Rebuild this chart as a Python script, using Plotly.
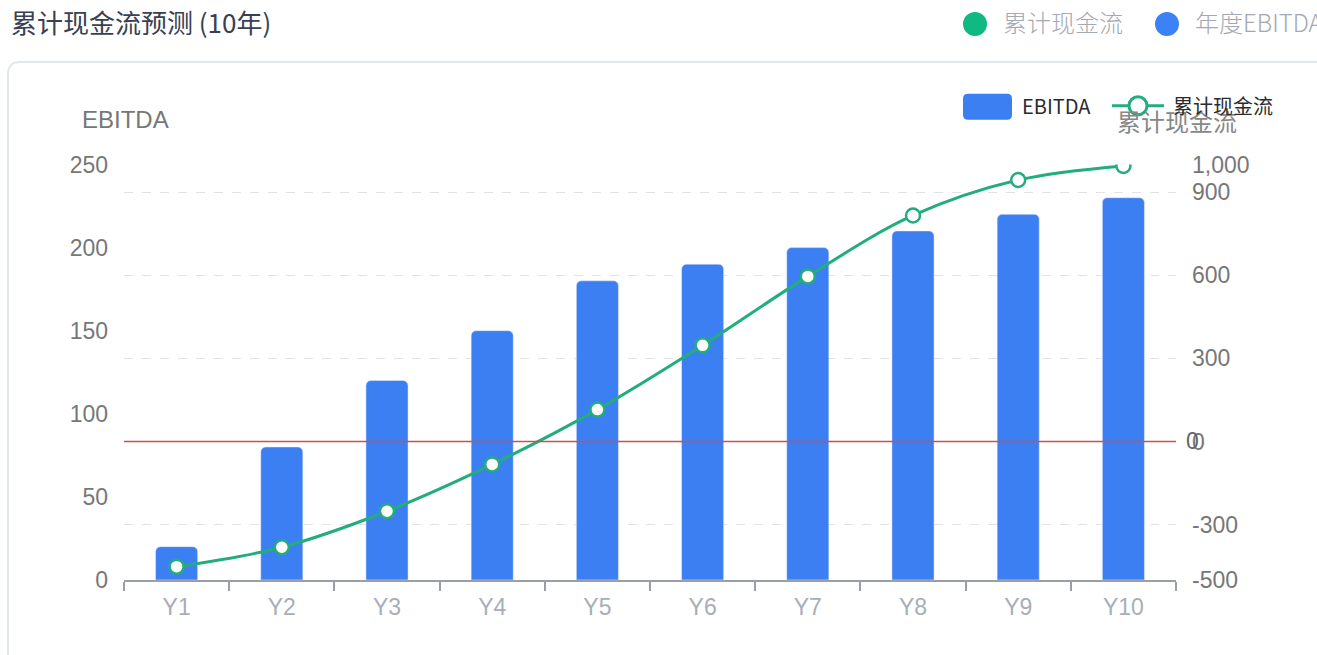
import plotly.graph_objects as go

W, H = 1317, 655

years = ["Y1", "Y2", "Y3", "Y4", "Y5", "Y6", "Y7", "Y8", "Y9", "Y10"]
ebitda = [20, 80, 120, 150, 180, 190, 200, 210, 220, 230]
cum_cash = [-452, -382, -252, -83, 115, 347, 596, 816, 944, 995]
left_ticks = [0, 50, 100, 150, 200, 250]
right_ticks = [-500, -300, 0, 300, 600, 900, 1000]
right_tick_text = [f"{v:,}" for v in right_ticks]

title_text = "累计现金流预测 (10年)"
legend_cum = "累计现金流"
legend_ebitda_top = "年度EBITDA"
legend_ebitda = "EBITDA"
left_axis_name = "EBITDA"
right_axis_name = "累计现金流"

BLUE = "#3b7ff2"
GREEN = "#24ad7c"

# the photographed picture maps page rows as y_img = 10.9 + 0.964 * y_page
Y_OFF, Y_SCALE = 10.9, 0.964


def px(x):
    return x / W


def py(y):
    return 1 - ((y - Y_OFF) / Y_SCALE) / H


fig = go.Figure()
fig.add_trace(go.Bar(
    x=years, y=ebitda, name=legend_ebitda, marker=dict(color=BLUE, cornerradius=5),
    yaxis="y", showlegend=False,
))
fig.add_trace(go.Scatter(
    x=years, y=cum_cash, name=legend_cum, yaxis="y2", mode="lines+markers",
    line=dict(color=GREEN, width=3, shape="spline", smoothing=1.0),
    marker=dict(size=14, color="white", line=dict(color=GREEN, width=2.5)),
    showlegend=False,
))

xd = [px(124), px(1176)]
yd = [py(580), py(163)]

shapes = []
# card border
card_path = "M {a},{b} L {a},{c} Q {a},{d} {e},{d} L {f},{d}".format(
    a=px(8), b=py(700), c=py(72), d=py(60), e=px(20), f=px(1330))
shapes.append(dict(type="path", xref="paper", yref="paper", path=card_path,
                   line=dict(color="#e3e8ee", width=2), layer="below"))
# zero line on right axis
shapes.append(dict(type="line", xref="paper", yref="y2", x0=xd[0], x1=xd[1], y0=0, y1=0,
                   line=dict(color="#c8524f", width=1.5)))
# top legend circles
shapes.append(dict(type="circle", xref="paper", yref="paper",
                   x0=px(963), x1=px(987), y0=py(34), y1=py(10),
                   fillcolor="#10b981", line=dict(width=0)))
shapes.append(dict(type="circle", xref="paper", yref="paper",
                   x0=px(1155), x1=px(1179), y0=py(34), y1=py(10),
                   fillcolor="#3b82f6", line=dict(width=0)))
# inner legend: blue rounded rect
x0, x1, y0, y1, r = 963, 1012, 92, 118, 5
rect_path = ("M {} {} L {} {} Q {} {} {} {} L {} {} Q {} {} {} {} L {} {} Q {} {} {} {} "
             "L {} {} Q {} {} {} {} Z").format(
    px(x0 + r), py(y0), px(x1 - r), py(y0), px(x1), py(y0), px(x1), py(y0 + r),
    px(x1), py(y1 - r), px(x1), py(y1), px(x1 - r), py(y1),
    px(x0 + r), py(y1), px(x0), py(y1), px(x0), py(y1 - r),
    px(x0), py(y0 + r), px(x0), py(y0), px(x0 + r), py(y0))
shapes.append(dict(type="path", xref="paper", yref="paper", path=rect_path,
                   fillcolor=BLUE, line=dict(width=0)))
# inner legend: line icon
shapes.append(dict(type="line", xref="paper", yref="paper", x0=px(1112), x1=px(1164),
                   y0=py(104), y1=py(104), line=dict(color=GREEN, width=3)))
shapes.append(dict(type="circle", xref="paper", yref="paper",
                   x0=px(1129), x1=px(1147), y0=py(113), y1=py(95),
                   fillcolor="white", line=dict(color=GREEN, width=3)))

CJK = "Noto Sans CJK SC"
annotations = [
    dict(text=title_text, x=px(10), y=py(19), xanchor="left", yanchor="middle",
         font=dict(family=CJK, size=26, color="#374151")),
    dict(text=legend_cum, x=px(1002), y=py(19), xanchor="left", yanchor="middle",
         font=dict(family=CJK, size=24, color="#a3a8b2", weight=300)),
    dict(text=legend_ebitda_top, x=px(1194), y=py(19), xanchor="left", yanchor="middle",
         font=dict(family=CJK, size=24, color="#a3a8b2", weight=300)),
    dict(text=left_axis_name, x=px(81), y=py(118), xanchor="left", yanchor="middle",
         font=dict(family="Liberation Sans", size=24, color="#777777")),
    dict(text=right_axis_name, x=px(1116), y=py(119), xanchor="left", yanchor="middle",
         font=dict(family=CJK, size=24, color="#888888")),
    dict(text=legend_ebitda, x=px(1021), y=py(104), xanchor="left", yanchor="middle",
         font=dict(family=CJK, size=20, color="#2b2b2b")),
    dict(text=legend_cum, x=px(1172), y=py(104), xanchor="left", yanchor="middle",
         font=dict(family=CJK, size=20, color="#2b2b2b")),
    dict(text="0", x=px(1185), y=0, xref="paper", yref="y2", xanchor="left", yanchor="middle",
         font=dict(family="Liberation Sans", size=23, color="#666666")),
]
for a in annotations:
    a.setdefault("xref", "paper")
    a.setdefault("yref", "paper")
    a["showarrow"] = False
    a["borderpad"] = 0

fig.update_layout(
    width=W, height=H, autosize=False,
    margin=dict(l=0, r=0, t=0, b=0, pad=0),
    paper_bgcolor="white", plot_bgcolor="white",
    bargap=0.6,
    shapes=shapes, annotations=annotations,
    showlegend=False,
    xaxis=dict(domain=xd, type="category", range=[-0.5, 9.5],
               showline=True, linecolor="#9a9ea8", linewidth=1.5,
               ticks="outside", tickson="boundaries", ticklen=9, tickcolor="#9a9ea8",
               tickwidth=1.5, showgrid=False, zeroline=False, ticklabelstandoff=6,
               tickfont=dict(family="Liberation Sans", size=23, color="#a8adb8")),
    yaxis=dict(domain=yd, range=[0, 250], tickvals=left_ticks, showgrid=False,
               zeroline=False, showline=False, ticks="", ticklabelstandoff=15,
               tickfont=dict(family="Liberation Sans", size=23, color="#777777")),
    yaxis2=dict(overlaying="y", side="right", range=[-500, 1000], tickvals=right_ticks,
                ticktext=right_tick_text, showgrid=True, gridcolor="#e2e2e2", griddash="dash",
                gridwidth=1, zeroline=False, showline=False, ticks="", ticklabelstandoff=15,
                tickfont=dict(family="Liberation Sans", size=23, color="#777777")),
)

fig.write_html(
    "out.html",
    config=dict(displayModeBar=False),
    post_script="document.documentElement.style.margin='0';document.body.style.margin='0';"
                "document.body.style.padding='0';document.body.style.overflow='hidden';",
)
